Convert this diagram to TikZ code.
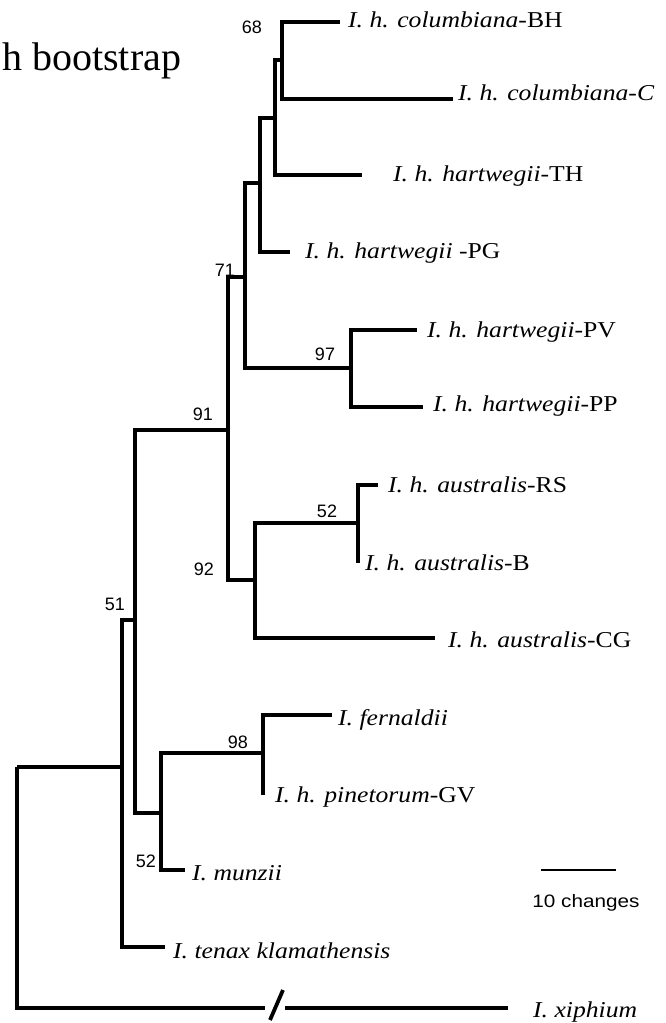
\documentclass[tikz,border=0pt]{standalone}
\usepackage{fontspec}
\setmainfont{Liberation Serif}
\newfontfamily\taxfont{Liberation Serif}[FakeStretch=1.13]
\newfontfamily\bsfont{Liberation Sans}
\newfontfamily\barfont{Liberation Sans}[FakeStretch=1.15]
\usepackage{tikz}
\usetikzlibrary{positioning}
\tikzset{
  branch/.style={line width=4.4pt,line join=miter},
  taxon/.style={anchor=base west,inner sep=0pt,font=\taxfont\fontsize{22.7}{27}\selectfont},
  boot/.style={anchor=base,inner sep=0pt,font=\bsfont\fontsize{18}{21}\selectfont},
  barlab/.style={anchor=base,inner sep=0pt,font=\barfont\fontsize{18}{21}\selectfont},
  ttl/.style={anchor=base west,inner sep=0pt,font=\fontsize{40}{46}\selectfont}
}

\begin{document}
\begin{tikzpicture}[x=1pt,y=-1pt]
      \useasboundingbox (0,0) rectangle (666,1023);
      \node[ttl] (title) at (2,70) {h bootstrap};
      \coordinate (r) at (17,767); \coordinate (a) at (122,767); \coordinate (n51) at (135,620);
      \coordinate (n91) at (228,430); \coordinate (n71) at (245,277); \coordinate (nA) at (260,183);
      \coordinate (nB) at (275,118); \coordinate (n68) at (282,60); \coordinate (n97) at (351,368);
      \coordinate (n92) at (255,580); \coordinate (n52a) at (358,523); \coordinate (n52b) at (161,813);
      \coordinate (n98) at (263,753);
      \coordinate (tBH) at (340,22); \coordinate (tC) at (453,99); \coordinate (tTH) at (362,175);
      \coordinate (tPG) at (290,252); \coordinate (tPV) at (417,330); \coordinate (tPP) at (423,407);
      \coordinate (tRS) at (378,485); \coordinate (tB) at (358,563); \coordinate (tCG) at (435,638);
      \coordinate (tFe) at (332,715); \coordinate (tPi) at (263,795); \coordinate (tMu) at (185,870);
      \coordinate (tTe) at (165,947); \coordinate (tXi) at (508,1008);
      \draw[branch] (r) |- (a); \draw[branch] (r) |- (tXi);
      \draw[branch] (a) |- (n51); \draw[branch] (a) |- (tTe);
      \draw[branch] (n51) |- (n91); \draw[branch] (n51) |- (n52b);
      \draw[branch] (n91) |- (n71); \draw[branch] (n91) |- (n92);
      \draw[branch] (n71) |- (nA); \draw[branch] (n71) |- (n97);
      \draw[branch] (nA) |- (nB); \draw[branch] (nA) |- (tPG);
      \draw[branch] (nB) |- (n68); \draw[branch] (nB) |- (tTH);
      \draw[branch] (n68) |- (tBH); \draw[branch] (n68) |- (tC);
      \draw[branch] (n97) |- (tPV); \draw[branch] (n97) |- (tPP);
      \draw[branch] (n92) |- (n52a); \draw[branch] (n92) |- (tCG);
      \draw[branch] (n52a) |- (tRS); \draw[branch] (n52a) |- (tB);
      \draw[branch] (n52b) |- (n98); \draw[branch] (n52b) |- (tMu);
      \draw[branch] (n98) |- (tFe); \draw[branch] (n98) |- (tPi);
      \coordinate (cut) at (275,1008);
      \draw[white,line width=6pt] ([xshift=-10pt]cut) -- ([xshift=10pt]cut);
      \draw[branch,line width=3.8pt] ([shift={(-5pt,-12pt)}]cut) -- ([shift={(8pt,18pt)}]cut);
      \node[taxon] (lBH) at (348,27) {\textit{I. h. columbiana}-BH};
      \node[taxon] (lC) at (458,100) {\textit{I. h. columbiana-C}};
      \node[taxon] (lTH) at (393,181) {\textit{I. h. hartwegii}-TH};
      \node[taxon] (lPG) at (305,258) {\textit{I. h. hartwegii} -PG};
      \node[taxon] (lPV) at (427,337) {\textit{I. h. hartwegii}-PV};
      \node[taxon] (lPP) at (433,411) {\textit{I. h. hartwegii}-PP};
      \node[taxon] (lRS) at (388,492) {\textit{I. h. australis}-RS};
      \node[taxon] (lB) at (365,570) {\textit{I. h. australis}-B};
      \node[taxon] (lCG) at (448,647) {\textit{I. h. australis}-CG};
      \node[taxon] (lFe) at (338,725) {\textit{I. fernaldii}};
      \node[taxon] (lPi) at (275,802) {\textit{I. h. pinetorum}-GV};
      \node[taxon] (lMu) at (192,880) {\textit{I. munzii}};
      \node[taxon] (lTe) at (173,958) {\textit{I. tenax klamathensis}};
      \node[taxon] (lXi) at (533,1017) {\textit{I. xiphium}};
      \node[boot] (b68) at (252,33) {68}; \node[boot] (b71) at (225,276) {71};
      \node[boot] (b97) at (325,360) {97}; \node[boot] (b91) at (203,420) {91};
      \node[boot] (b52a) at (327,517) {52}; \node[boot] (b92) at (204,575) {92};
      \node[boot] (b51) at (115,610) {51}; \node[boot] (b98) at (238,748) {98};
      \node[boot] (b52b) at (146,867) {52};
      \coordinate (sb1) at (541,870); \coordinate (sb2) at (616,870);
      \draw[line width=1.3pt] (sb1) -- (sb2);
      \node[barlab] (sbl) at (586,907) {10 changes};
    \end{tikzpicture}
\end{document}
